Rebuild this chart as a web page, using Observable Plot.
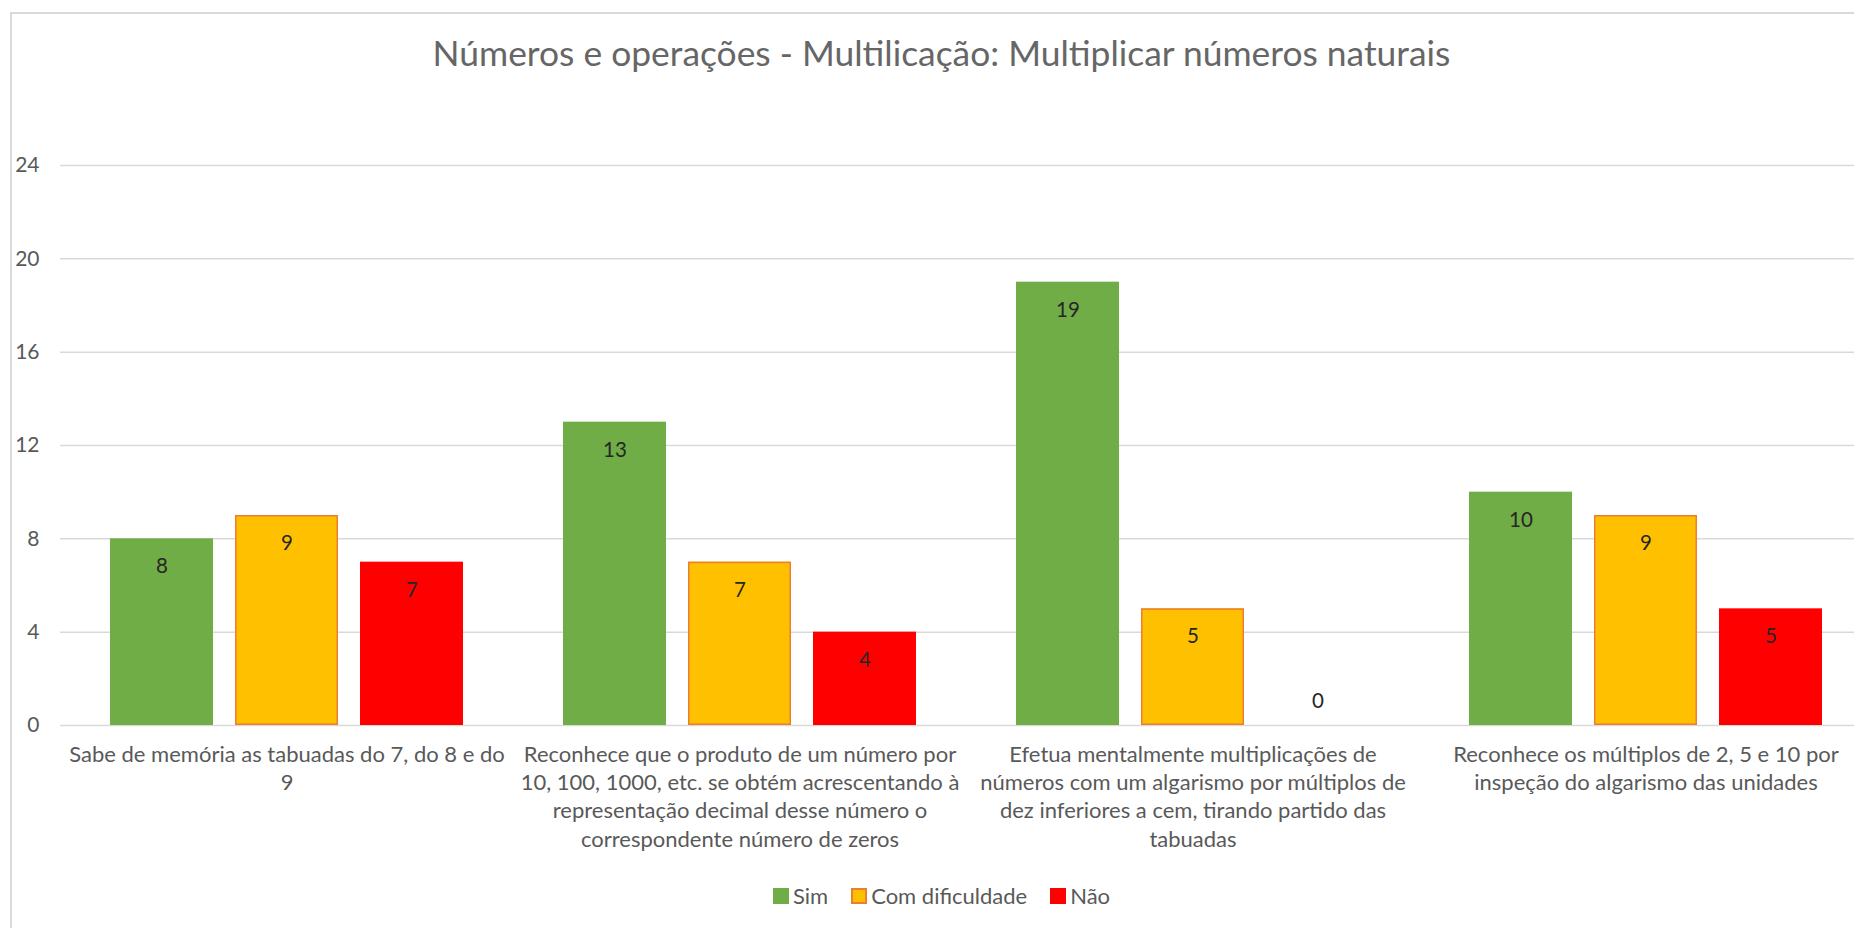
<!DOCTYPE html>
<html>
<head>
<meta charset="utf-8">
<script src="https://cdn.jsdelivr.net/npm/d3@7"></script>
<script src="https://cdn.jsdelivr.net/npm/@observablehq/plot@0.6"></script>
<style>
  html, body { margin: 0; padding: 0; background: #fff; overflow: hidden; width: 1854px; height: 928px; }
  body { position: relative; font-family: Lato, "Open Sans", sans-serif; }
  #frame { position: absolute; left: 10px; top: 12px; width: 1900px; height: 1000px;
           border-left: 2px solid #d9d9d9; border-top: 2px solid #d9d9d9; box-sizing: border-box; }
  #title { position: absolute; left: 10px; top: 35px; width: 1863px; text-align: center;
           font-size: 35.4px; line-height: 35.4px; color: #666666; white-space: nowrap; }
  #chart { position: absolute; left: 0; top: 100px; }
  #legend { position: absolute; left: 10px; top: 884px; width: 1863px; display: flex;
            justify-content: center; align-items: center; font-size: 22px; line-height: 24px; color: #595959; }
  .item { display: flex; align-items: center; margin: 0 11.5px; }
  .sw { width: 16px; height: 16px; margin-right: 4px; box-sizing: border-box; }
</style>
</head>
<body>
<div id="frame"></div>
<div id="title"></div>
<div id="chart"></div>
<div id="legend"></div>
<script>
const titleText = "Números e operações - Multilicação: Multiplicar números naturais";
const categories = [
  "Sabe de memória as tabuadas do 7, do 8 e do\n9",
  "Reconhece que o produto de um número por\n10, 100, 1000, etc. se obtém acrescentando à\nrepresentação decimal desse número o\ncorrespondente número de zeros",
  "Efetua mentalmente multiplicações de\nnúmeros com um algarismo por múltiplos de\ndez inferiores a cem, tirando partido das\ntabuadas",
  "Reconhece os múltiplos de 2, 5 e 10 por\ninspeção do algarismo das unidades"
];
const series = ["Sim", "Com dificuldade", "Não"];
const sim = [8, 13, 19, 10];
const comDificuldade = [9, 7, 5, 9];
const nao = [7, 4, 0, 5];
const yTicks = [0, 4, 8, 12, 16, 20, 24];
const colors = ["#70AD47", "#FFC000", "#FF0000"];
const outlines = ["none", "#ED7D31", "none"];

const valuesBySeries = [sim, comDificuldade, nao];
const data = categories.flatMap((c, i) =>
  series.map((s, j) => ({cat: c, series: s, value: valuesBySeries[j][i]})));

document.getElementById("title").textContent = titleText;

const chart = Plot.plot({
  width: 1854,
  height: 755,
  marginLeft: 60,
  marginRight: -18,
  marginTop: 65,
  marginBottom: 130,
  style: {fontFamily: "Lato, 'Open Sans', sans-serif", background: "transparent", overflow: "visible"},
  fx: {domain: categories, paddingInner: 0, paddingOuter: 0, label: null},
  x: {domain: series, paddingInner: 0.176, paddingOuter: 0.399, axis: null},
  y: {domain: [0, 24], label: null},
  color: {domain: series, range: colors},
  marks: [
    Plot.gridY(yTicks, {stroke: "#d9d9d9", strokeOpacity: 1, strokeWidth: 1.5}),
    Plot.axisY(yTicks, {tickSize: 0, tickPadding: 21, fontSize: 21, fill: "#595959", label: null}),
    Plot.axisFx({anchor: "bottom", tickSize: 0, tickPadding: 16, fontSize: 22, lineHeight: 1.29,
                 fill: "#595959", label: null, tickFormat: d => d}),
    Plot.barY(data, {fx: "cat", x: "series", y: "value", fill: "series"}),
    Plot.barY(data.filter(d => outlines[series.indexOf(d.series)] !== "none"),
      {fx: "cat", x: "series", y: "value", fill: "none",
       stroke: d => outlines[series.indexOf(d.series)], strokeWidth: 1.5, inset: 0.75}),
    Plot.text(data.filter(d => d.value > 0),
      {fx: "cat", x: "series", y: "value", text: d => String(d.value), dy: 28, fontSize: 20.5, fill: "#262626"}),
    Plot.text(data.filter(d => d.value === 0),
      {fx: "cat", x: "series", y: "value", text: d => String(d.value), dy: -24, fontSize: 20.5, fill: "#262626"})
  ]
});
document.getElementById("chart").appendChild(chart);

const legend = document.getElementById("legend");
series.forEach((s, i) => {
  const item = document.createElement("div");
  item.className = "item";
  const sw = document.createElement("div");
  sw.className = "sw";
  sw.style.background = colors[i];
  if (outlines[i] !== "none") sw.style.border = "2px solid " + outlines[i];
  const label = document.createElement("span");
  label.textContent = s;
  item.appendChild(sw);
  item.appendChild(label);
  legend.appendChild(item);
});
</script>
</body>
</html>
